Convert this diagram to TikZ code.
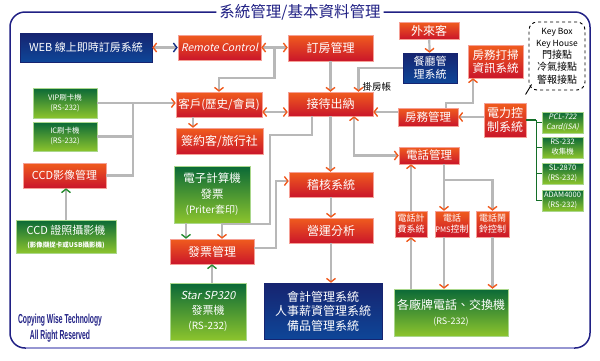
\documentclass[tikz,border=0pt]{standalone}
\usepackage{fontspec}
\setmainfont{Noto Sans CJK TC}[AutoFakeSlant=0.2]
\newfontfamily\narrowfont{Liberation Sans}[FakeStretch=0.52]
\usetikzlibrary{arrows.meta, calc, positioning}

\definecolor{redtop}{RGB}{240,92,30}
\definecolor{redbot}{RGB}{202,22,42}
\definecolor{rededge}{RGB}{245,160,150}
\definecolor{greentop}{RGB}{10,105,55}
\definecolor{greenbot}{RGB}{140,196,45}
\definecolor{greenedge}{RGB}{170,215,140}
\definecolor{navytop}{RGB}{22,36,112}
\definecolor{navybot}{RGB}{14,70,152}
\definecolor{linegray}{RGB}{184,184,184}
\definecolor{tipred}{RGB}{240,90,30}
\definecolor{tipgreen}{RGB}{40,140,50}
\definecolor{tipnavy}{RGB}{20,45,130}
\definecolor{framenavy}{RGB}{32,32,132}
\definecolor{framelight}{RGB}{150,150,210}
\definecolor{busgreen}{RGB}{20,110,40}

\tikzset{
  redbox/.style={rectangle, draw=rededge, line width=0.5pt, top color=redtop, bottom color=redbot, text=white, align=center, inner sep=0pt},
  greenbox/.style={rectangle, draw=greenedge, line width=0.5pt, top color=greentop, bottom color=greenbot, text=white, align=center, inner sep=0pt},
  bluebox/.style={rectangle, draw=navytop, line width=0.5pt, top color=navytop, bottom color=navybot, text=white, align=center, inner sep=0pt},
  boxsize/.style 2 args={minimum width=#1pt, minimum height=#2pt},
  link/.style={draw=linegray, line width=2.2pt},
  bus/.style={draw=busgreen, line width=1.3pt},
  tipto/.style={-{Straight Barb[length=3.5pt, width=9pt, line width=1.4pt, color=#1]}},
  tipto/.default=tipred,
  tipboth/.style 2 args={{Straight Barb[length=3.5pt, width=9pt, line width=1.4pt, color=#1]}-{Straight Barb[length=3.5pt, width=9pt, line width=1.4pt, color=#2]}}
}

\begin{document}
\begin{tikzpicture}[x=1pt, y=-1pt,
    f12/.style={font=\fontsize{12}{14}\selectfont},
    f11/.style={font=\fontsize{11}{13}\selectfont},
    f9/.style={font=\fontsize{9}{11}\selectfont},
    f7/.style={font=\fontsize{7.5}{10}\selectfont}
  ]
  \useasboundingbox (0,0) rectangle (600,360);

  % --- Marco y titulo ---
  \node (title) [text=framenavy, font=\fontsize{15.5}{17}\selectfont, inner sep=3pt] at (300,12) {系統管理/基本資料管理};
  \draw [framenavy, line width=1.5pt, rounded corners=15pt] (title.west) -- (10,12) -- (10,348) -- (590,348) -- (590,12) -- (title.east);
  \draw [framelight, line width=1.5pt] (26,348) -- (574,348);

  % --- Columna izquierda ---
  \node (web) [bluebox, boxsize={132}{29}, f11] at (86,47.5) {WEB 線上即時訂房系統};
  \node (vip) [greenbox, boxsize={64}{30}, f7] at (65,103) {VIP刷卡機\\(RS-232)};
  \node (ic) [greenbox, boxsize={64}{29}, f7] at (65,136.5) {IC刷卡機\\(RS-232)};
  \node (ccdmgr) [redbox, boxsize={83}{25}, f11] at (64.5,175.5) {CCD影像管理};
  \node (ccdcam) [greenbox, boxsize={100}{33}, f11] at (66,236.5) {CCD 證照攝影機\\{\fontsize{6.5}{9}\selectfont\bfseries (影像擷捉卡或USB攝影機)}};
  \node (copyright) [text=framenavy, font=\narrowfont\bfseries\fontsize{13}{16.5}\selectfont, align=center] at (60,328) {Copying Wise Technology\\All Right Reserved};

  % --- Columna de clientes y facturas ---
  \node (remote) [redbox, boxsize={83}{25}, font=\fontsize{10.5}{12}\selectfont\itshape] at (219.5,47.5) {Remote Control};
  \node (kehu) [redbox, boxsize={86}{25}, font=\fontsize{11.5}{13}\selectfont] at (219,104.5) {客戶(歷史/會員)};
  \node (qianyue) [redbox, boxsize={87}{26}, f12] at (219.5,141) {簽約客/旅行社};
  \node (jisuanji) [greenbox, boxsize={76}{57}, font=\fontsize{11.5}{15.5}\selectfont] at (212,194.5) {電子計算機\\發票\\{\fontsize{10}{15.5}\selectfont (Priter套印)}};
  \node (fapiao) [redbox, boxsize={84}{25}, f12] at (212,251.5) {發票管理};
  \node (star) [greenbox, boxsize={76}{57}, font=\fontsize{11}{15}\selectfont] at (208,311.5) {{\itshape Star SP320}\\發票機\\{\fontsize{10}{15}\selectfont (RS-232)}};

  % --- Columna central ---
  \node (dingfang) [redbox, boxsize={85}{26}, f12] at (330.5,48) {訂房管理};
  \node (jiedai) [redbox, boxsize={85}{24}, f12] at (330.5,104) {接待出納};
  \node (jihe) [redbox, boxsize={84}{25}, f12] at (331,184.5) {稽核系統};
  \node (yingyun) [redbox, boxsize={84}{25}, f12] at (331,230.5) {營運分析};
  \node (kuaiji) [bluebox, boxsize={118}{56}, font=\fontsize{12}{14.5}\selectfont] at (323,311) {會計管理系統\\人事薪資管理系統\\備品管理系統};

  % --- Columna derecha ---
  \node (wailai) [redbox, boxsize={60}{17}, f12] at (429,30.5) {外來客};
  \node (canting) [bluebox, boxsize={54}{30}, f11] at (430,68) {餐廳管\\理系統};
  \node (clean) [redbox, boxsize={55}{33}, font=\fontsize{11.5}{13.5}\selectfont] at (495.5,61.5) {房務打掃\\資訊系統};
  \node (keybox) [draw, dashed, line width=0.9pt, rounded corners=8pt, boxsize={56}{68}, align=center, inner sep=0pt, font=\fontsize{10}{12.2}\selectfont] at (557,56) {{\fontsize{8.5}{12.2}\selectfont Key Box}\\{\fontsize{8.5}{12.2}\selectfont Key House}\\門接點\\冷氣接點\\警報接點};
  \node (fangwu) [redbox, boxsize={60}{18}, font=\fontsize{11.5}{13}\selectfont] at (428,117) {房務管理};
  \node (dianli) [redbox, boxsize={42}{34}, font=\fontsize{12}{14}\selectfont] at (505,120) {電力控\\制系統};
  \node (pcl) [greenbox, boxsize={41}{21}, f7] at (562.5,122.5) {\itshape PCL-722\\\itshape Card(ISA)};
  \node (collector) [greenbox, boxsize={41}{21}, f7] at (562.5,147.5) {RS-232\\收集機};
  \node (sl) [greenbox, boxsize={41}{21}, f7] at (562.5,173.5) {SL-2870\\(RS-232)};
  \node (adam) [greenbox, boxsize={41}{21}, f7] at (562.5,200.5) {ADAM4000\\(RS-232)};
  \node (dianhua) [redbox, boxsize={60}{17}, font=\fontsize{11.5}{13}\selectfont] at (429,155.5) {電話管理};
  \node (jifei) [redbox, boxsize={32}{26}, f9] at (411,224) {電話計\\費系統};
  \node (pms) [redbox, boxsize={34}{26}, f9] at (452,224) {電話\\{\fontsize{7.5}{11}\selectfont PMS}控制};
  \node (naoling) [redbox, boxsize={33}{26}, f9] at (492.5,224) {電話鬧\\鈴控制};
  \node (pbx) [greenbox, boxsize={114}{47}, font=\fontsize{12}{15}\selectfont] at (451,312.5) {各廠牌電話、交換機\\{\fontsize{9}{15}\selectfont (RS-232)}};
  \node (guafang) [anchor=west, inner sep=0pt, font=\fontsize{9.5}{11}\selectfont] at ([xshift=32pt, yshift=5pt]jiedai.north) {掛房帳};

  % --- Conexiones superiores ---
  \draw [link, tipboth={tipred}{tipnavy}] (web) -- (remote);
  \draw [link, tipboth={tipred}{tipred}] (remote.east) -- (remote.east -| dingfang.west);
  \coordinate (rcjoint) at ($(remote.east)!0.5!(dingfang.west)$);
  \draw [link, tipto] (rcjoint) -- ++(0,30.5) -| (kehu.north);
  \draw [link, tipto] (dingfang) -- (jiedai);
  \draw [link, tipto] (canting.west) -| ([xshift=28pt]jiedai.north);
  \draw [link, tipto] (wailai) -- (canting);
  \draw [link, tipto] ([xshift=18pt]fangwu.north) -- ++(0,-5) -| ([xshift=-22.5pt]clean.south);

  % --- Clientes y tarjetas ---
  \draw [link, tipboth={tipred}{tipred}] ([yshift=-7.5pt]kehu.east) -- ([yshift=-7.5pt]kehu.east -| jiedai.west);
  \draw [link, tipto] ([xshift=-26pt]kehu.south) -- ([xshift=-26pt]kehu.south |- qianyue.north);
  \coordinate (cardbus) at (133,103);
  \draw [link, tipto] (vip.east) -- (vip.east -| kehu.west);
  \draw [link] (ic.east) -- (ic.east -| cardbus);
  \draw [link] (ccdmgr.east) -| (cardbus);
  \draw [link, tipto=tipgreen] (ccdcam.north) -- (ccdcam.north |- ccdmgr.south);

  % --- Recepcion hacia abajo ---
  \draw [link, tipboth={tipred}{tipred}] ([xshift=23.5pt]jiedai.south) |- (dianhua.west);
  \draw [link, tipto] (jiedai.south) -- (jiedai.south |- jihe.north);
  \draw [link, tipto] ([xshift=-18.5pt]jiedai.south) -- ++(0,19) -- ++(-42,0) -- ++(0,89) -| ([xshift=10pt]fapiao.north);
  \draw [link, tipto=tipgreen] ([xshift=-26pt]jisuanji.south) -- ([xshift=-26pt]jisuanji.south |- fapiao.north);
  \draw [link, tipto] ([yshift=3.5pt]fapiao.east) -- ++(22,0) |- ([yshift=3.5pt]jihe.west);
  \draw [link, tipto=tipgreen] (fapiao.south |- star.north) -- (fapiao.south);
  \draw [link, tipto] (jihe) -- (yingyun);
  \draw [link, tipto] (yingyun.south) -- (yingyun.south |- kuaiji.north);

  % --- Housekeeping y energia ---
  \draw [link, tipto] ([yshift=5pt]fangwu.west) -- ([yshift=5pt]fangwu.west -| jiedai.east);
  \draw [link, tipto] (dianli.west |- fangwu.east) -- (fangwu.east);
  \draw [bus] (dianli.east) -- ++(10,0) coordinate (powerbus);
  \draw [bus] (powerbus) |- (adam.west);
  \foreach \dev in {pcl, collector, sl}
    \draw [bus] (powerbus |- \dev.west) -- (\dev.west);
  \draw [line width=0.9pt] ([shift={(3pt,6pt)}]keybox.south west) -- ++(-6,10);

  % --- Telefonia ---
  \draw [link, tipto] (jifei.north) -- (jifei.north |- dianhua.south);
  \draw [link, tipto] (jifei.south |- pbx.north) -- (jifei.south);
  \draw [link, tipto] ([xshift=-8pt]pms.north |- dianhua.south) -- ([xshift=-8pt]pms.north);
  \coordinate (telsplit) at ([xshift=-8pt]pms.north |- 0,180);
  \draw [link, tipto] (telsplit) -| (naoling.north);
  \draw [link, tipto] ([xshift=-8pt]pms.south) -- ([xshift=-8pt]pms.south |- pbx.north);
  \draw [link, tipto] (naoling.south) -- (naoling.south |- pbx.north);
\end{tikzpicture}
\end{document}
